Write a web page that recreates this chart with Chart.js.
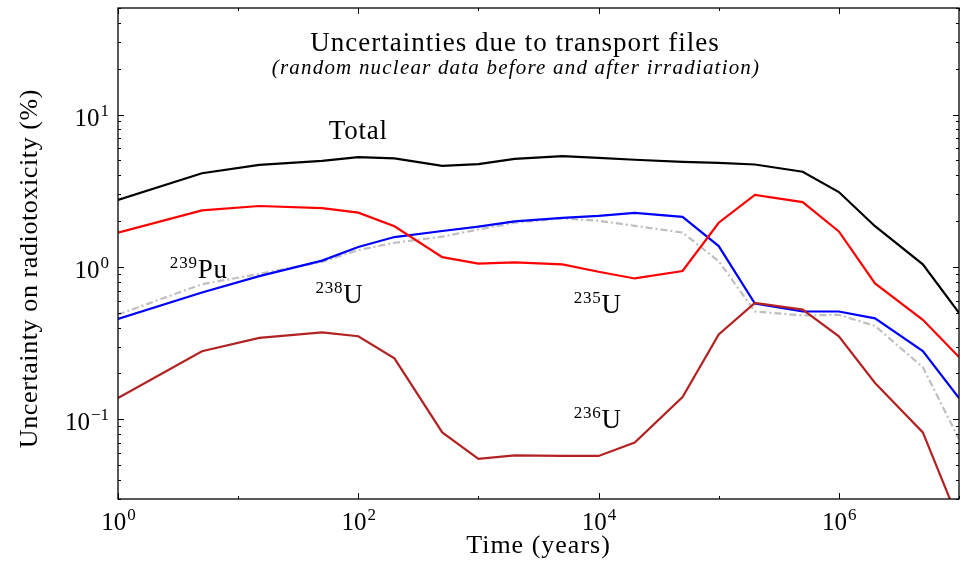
<!DOCTYPE html>
<html>
<head>
<meta charset="utf-8">
<script src="https://cdn.jsdelivr.net/npm/chart.js@4/dist/chart.umd.min.js"></script>
<style>
  body { margin: 0; background: #fff; }
  canvas { display: block; }
</style>
</head>
<body>
<canvas id="chart-radiotox" width="962" height="564"></canvas>
<script>
const times = [1, 5, 15, 50, 100, 200, 500, 1000, 2000, 5000, 1e4, 2e4, 5e4, 1e5, 2e5, 5e5, 1e6, 2e6, 5e6, 1e7];
const total = [2.75, 4.12, 4.67, 4.97, 5.25, 5.15, 4.60, 4.72, 5.12, 5.33, 5.20, 5.05, 4.89, 4.82, 4.70, 4.21, 3.10, 1.85, 1.04, 0.50];
const pu239 = [1.68, 2.35, 2.51, 2.43, 2.27, 1.85, 1.16, 1.05, 1.07, 1.04, 0.93, 0.84, 0.94, 1.95, 2.97, 2.66, 1.71, 0.78, 0.45, 0.256];
const u238 = [0.456, 0.68, 0.87, 1.10, 1.35, 1.57, 1.72, 1.84, 1.99, 2.10, 2.16, 2.26, 2.13, 1.37, 0.575, 0.51, 0.51, 0.46, 0.28, 0.138];
const u235 = [0.487, 0.77, 0.90, 1.08, 1.29, 1.44, 1.58, 1.76, 1.95, 2.08, 2.01, 1.86, 1.68, 1.09, 0.51, 0.48, 0.485, 0.41, 0.22, 0.074];
const u236 = [0.138, 0.28, 0.342, 0.372, 0.351, 0.251, 0.082, 0.055, 0.058, 0.0575, 0.0575, 0.0703, 0.14, 0.36, 0.58, 0.525, 0.35, 0.173, 0.082, 0.0214];

const xDecades = [0, 1, 2, 3, 4, 5, 6, 7];
const xLabelled = [0, 2, 4, 6];
const yDecades = [-1, 0, 1];

// text labels placed in data coordinates
const notes = [
  { sup: '', base: 'Total', x: 100, y: 6.9, center: true },
  { sup: '239', base: 'Pu', x: 2.7, y: 0.84 },
  { sup: '238', base: 'U', x: 44, y: 0.58 },
  { sup: '235', base: 'U', x: 6200, y: 0.50 },
  { sup: '236', base: 'U', x: 6200, y: 0.088 }
];

const serif = '"Liberation Serif", "DejaVu Serif", serif';

function pts(vals) {
  return times.map((t, i) => ({ x: t, y: vals[i] }));
}

function drawPow(ctx, exp, x, y, align) {
  ctx.font = '25px ' + serif;
  const wb = ctx.measureText('10').width;
  ctx.font = '17px ' + serif;
  const we = ctx.measureText(exp).width;
  let x0 = x;
  if (align === 'center') x0 = x - (wb + we) / 2;
  if (align === 'right') x0 = x - (wb + we);
  ctx.textAlign = 'left';
  ctx.textBaseline = 'alphabetic';
  ctx.font = '25px ' + serif;
  ctx.fillText('10', x0, y);
  ctx.font = '17px ' + serif;
  ctx.fillText(exp, x0 + wb + 1, y - 10);
}

function spaced(ctx, font, sp, text, x, y) {
  ctx.font = font;
  ctx.letterSpacing = sp + 'px';
  ctx.fillText(text, x, y);
  ctx.letterSpacing = '0px';
}

const frame = {
  id: 'frame',
  afterDraw(chart) {
    const ctx = chart.ctx;
    const a = chart.chartArea;
    const xs = chart.scales.x;
    const ys = chart.scales.y;
    ctx.save();
    ctx.fillStyle = '#000';
    ctx.strokeStyle = '#000';

    // box
    ctx.lineWidth = 1.3;
    ctx.strokeRect(a.left, a.top, a.right - a.left, a.bottom - a.top);

    // x ticks
    ctx.lineWidth = 1;
    xDecades.forEach(d => {
      const px = Math.round(xs.getPixelForValue(Math.pow(10, d))) + 0.5;
      const len = d % 2 === 0 ? 6 : 3;
      ctx.beginPath();
      ctx.moveTo(px, a.bottom); ctx.lineTo(px, a.bottom - len);
      ctx.moveTo(px, a.top); ctx.lineTo(px, a.top + len);
      ctx.stroke();
    });

    // y ticks, major and minor
    for (let d = -2; d <= 1; d++) {
      for (let m = 1; m <= 9; m++) {
        const v = m * Math.pow(10, d);
        if (v < ys.min || v > ys.max) continue;
        const py = Math.round(ys.getPixelForValue(v)) + 0.5;
        const len = m === 1 ? 6 : 3;
        ctx.beginPath();
        ctx.moveTo(a.left, py); ctx.lineTo(a.left + len, py);
        ctx.moveTo(a.right, py); ctx.lineTo(a.right - len, py);
        ctx.stroke();
      }
    }

    // tick labels
    xLabelled.forEach(d => {
      drawPow(ctx, String(d), xs.getPixelForValue(Math.pow(10, d)), a.bottom + 31, 'center');
    });
    yDecades.forEach(d => {
      const lab = d < 0 ? '\u2212' + Math.abs(d) : String(d);
      drawPow(ctx, lab, a.left - 10, ys.getPixelForValue(Math.pow(10, d)) + 11, 'right');
    });

    // axis titles
    ctx.textAlign = 'center';
    ctx.textBaseline = 'alphabetic';
    spaced(ctx, '26px ' + serif, 1, 'Time (years)', (a.left + a.right) / 2, 553);
    ctx.save();
    ctx.translate(37, (a.top + a.bottom) / 2 + 15);
    ctx.rotate(-Math.PI / 2);
    spaced(ctx, '26px ' + serif, 0.6, 'Uncertainty on radiotoxicity (%)', 0, 0);
    ctx.restore();

    // titles inside the plot
    spaced(ctx, '27px ' + serif, 1, 'Uncertainties due to transport files', 515, 51);
    spaced(ctx, 'italic 21px ' + serif, 1.2, '(random nuclear data before and after irradiation)', 516, 74);

    // series notes
    notes.forEach(n => {
      const px = xs.getPixelForValue(n.x);
      const py = ys.getPixelForValue(n.y);
      ctx.letterSpacing = '0.8px';
      ctx.font = '17px ' + serif;
      const ws = n.sup ? ctx.measureText(n.sup).width : 0;
      ctx.font = '27px ' + serif;
      const wb = ctx.measureText(n.base).width;
      const x0 = n.center ? px - (ws + wb) / 2 : px;
      ctx.textAlign = 'left';
      if (n.sup) {
        ctx.font = '17px ' + serif;
        ctx.fillText(n.sup, x0, py - 10);
      }
      ctx.font = '27px ' + serif;
      ctx.fillText(n.base, x0 + ws, py);
      ctx.letterSpacing = '0px';
    });

    ctx.restore();
  }
};

const line = (label, vals, color, extra) => Object.assign({
  label: label,
  data: pts(vals),
  borderColor: color,
  borderWidth: 2.2,
  pointRadius: 0,
  tension: 0,
  fill: false
}, extra || {});

new Chart(document.getElementById('chart-radiotox'), {
  type: 'line',
  data: {
    datasets: [
      line('Total', total, '#000000'),
      line('239Pu', pu239, '#ff0000'),
      line('236U', u236, '#b22222'),
      line('238U', u238, '#0000ff'),
      line('235U', u235, '#bfbfbf', { borderDash: [7, 3, 2, 3] })
    ]
  },
  options: {
    responsive: false,
    animation: false,
    layout: { padding: { top: 8, right: 3, left: 0, bottom: 0 } },
    plugins: {
      legend: { display: false },
      tooltip: { enabled: false },
      title: { display: false }
    },
    scales: {
      x: {
        type: 'logarithmic',
        min: 1,
        max: 1e7,
        ticks: { display: false },
        grid: { display: false, drawTicks: false },
        border: { display: false },
        afterFit: s => { s.height = 65; }
      },
      y: {
        type: 'logarithmic',
        min: 0.03,
        max: 50,
        ticks: { display: false },
        grid: { display: false, drawTicks: false },
        border: { display: false },
        afterFit: s => { s.width = 118; }
      }
    }
  },
  plugins: [frame]
});
</script>
</body>
</html>
